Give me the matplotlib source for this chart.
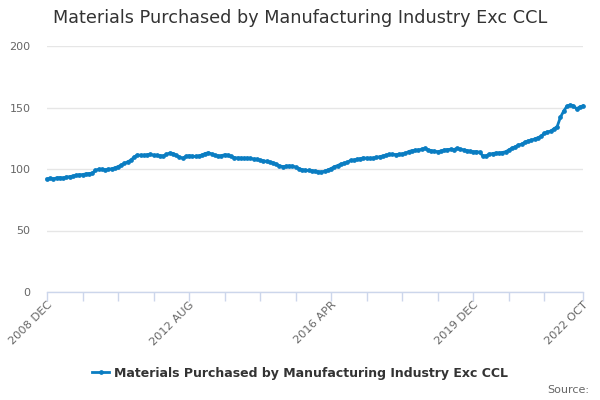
import matplotlib
matplotlib.use("Agg")
import matplotlib.pyplot as plt

title = "Materials Purchased by Manufacturing Industry Exc CCL"
series_name = "Materials Purchased by Manufacturing Industry Exc CCL"

# monthly values, 2008 DEC .. 2022 OCT
values = [
    91.9, 92.3, 92.0, 92.8, 93.0, 92.6, 93.4, 93.8, 94.3, 94.8,
    95.3, 95.5, 96.0, 96.3, 96.6, 98.8, 99.8, 99.6, 99.4, 99.7,
    100.2, 100.9, 101.9, 103.2, 104.6, 105.8, 107.2, 109.8, 111.4, 111.2,
    111.0, 111.6, 112.0, 111.2, 111.0, 110.8, 110.6, 111.8, 113.0, 112.6,
    111.0, 109.8, 108.8, 110.2, 110.8, 110.4, 110.2, 110.6, 111.4, 112.6,
    113.2, 112.2, 111.0, 110.6, 110.8, 111.6, 111.2, 110.2, 109.3, 109.0,
    108.8, 108.7, 108.8, 108.6, 108.1, 107.8, 107.2, 106.6, 106.2, 105.6,
    105.0, 103.8, 102.6, 102.0, 102.2, 102.4, 102.3, 101.5, 100.4, 99.4,
    99.0, 98.8, 98.6, 98.2, 97.8, 97.6, 98.2, 99.2, 100.4, 101.8,
    102.8, 104.0, 104.6, 105.4, 107.0, 107.2, 107.8, 108.4, 109.0, 108.8,
    108.6, 108.8, 109.4, 110.0, 110.6, 111.2, 111.8, 111.9, 111.7, 111.9,
    112.2, 112.7, 114.2, 114.9, 115.2, 115.4, 116.0, 116.8, 115.6, 114.9,
    114.4, 114.1, 114.6, 115.4, 115.8, 116.0, 115.8, 116.8, 116.0, 115.6,
    115.0, 114.4, 114.0, 114.2, 113.6, 110.6, 110.8, 112.0, 112.6, 113.0,
    113.0, 113.4, 114.0, 115.4, 117.0, 118.0, 119.4, 120.2, 121.8, 122.8,
    123.4, 124.4, 125.4, 126.6, 129.0, 130.2, 130.8, 132.6, 134.5, 142.0,
    147.0, 151.0, 152.0, 151.4, 149.0, 150.4, 151.4,
]

tick_months = [0, 11, 22, 33, 44, 55, 66, 77, 88, 99, 110, 121, 132, 143, 154, 166]
label_months = [0, 44, 88, 132, 166]
label_texts = ["2008 DEC", "2012 AUG", "2016 APR", "2019 DEC", "2022 OCT"]
y_ticks = [0, 50, 100, 150, 200]

line_color = "#0a7dc2"
axis_color = "#ccd6eb"
grid_color = "#e6e6e6"
text_color = "#666666"

fig = plt.figure(figsize=(6, 4), dpi=100)
ax = fig.add_axes([47 / 600, 1 - 292 / 400, 536 / 600, 246 / 400])

x = list(range(len(values)))
ax.plot(x, values, color=line_color, linewidth=2, marker="o", markersize=2.4,
        label=series_name, clip_on=False, zorder=3)

ax.set_xlim(0, len(values) - 1)
ax.set_ylim(0, 200)
ax.set_yticks(y_ticks)
ax.set_yticklabels([str(v) for v in y_ticks], color=text_color, fontsize=8)
ax.grid(axis="y", color=grid_color, linewidth=1)
ax.set_axisbelow(True)

xlabels = []
for m in tick_months:
    if m in label_months:
        xlabels.append(label_texts[label_months.index(m)])
    else:
        xlabels.append("")
ax.set_xticks(tick_months)
ax.set_xticklabels(xlabels, color=text_color, fontsize=8.2)
plt.setp(ax.get_xticklabels(), rotation=45, ha="right", rotation_mode="anchor")

ax.tick_params(axis="x", length=6.5, color=axis_color, width=1, direction="out", pad=-1)
ax.tick_params(axis="y", length=0, pad=12)
for s in ["top", "right", "left"]:
    ax.spines[s].set_visible(False)
ax.spines["bottom"].set_color(axis_color)
ax.spines["bottom"].set_linewidth(1)

fig.text(0.5, 1 - 18 / 400, title, ha="center", va="center",
         fontsize=12.7, color="#333333")

leg = fig.legend(loc="center", bbox_to_anchor=(0.5, 1 - 373 / 400), frameon=False,
                 handlelength=1.4, handletextpad=0.4,
                 prop={"size": 9, "weight": "bold"})
for t in leg.get_texts():
    t.set_color("#333333")

fig.text(589 / 600, 1 - 390 / 400, "Source:", ha="right", va="center",
         fontsize=8, color=text_color)

fig.savefig("out.png", dpi=100)
